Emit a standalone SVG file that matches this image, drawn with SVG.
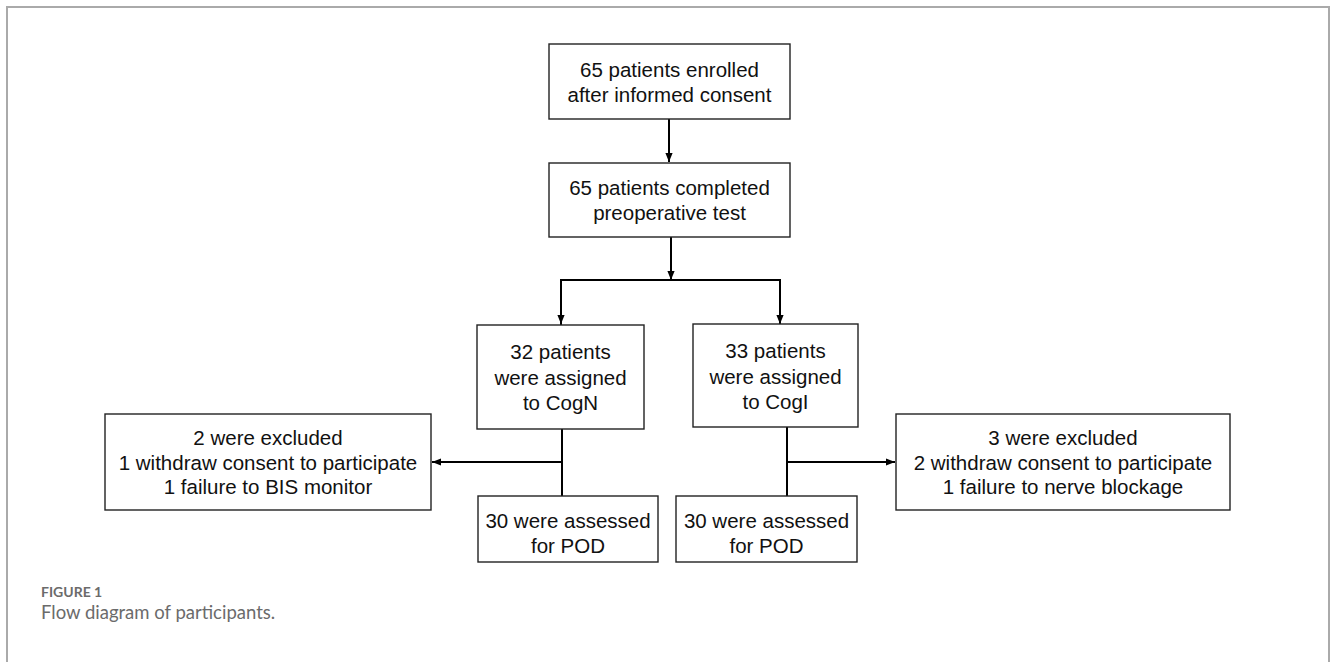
<svg xmlns="http://www.w3.org/2000/svg" width="1330" height="662" viewBox="0 0 1330 662">
<style>
.box{fill:#fff;stroke:#222;stroke-width:1.4}
.t{font-family:"Liberation Sans",Arial,sans-serif;font-size:20.5px;fill:#111;text-anchor:middle}
.c{fill:none;stroke:#000;stroke-width:2}
.frame{fill:none;stroke:#aaa;stroke-width:2}
</style>
<defs>
<marker id="ah" viewBox="0 0 10 10" refX="10" refY="5" markerWidth="9" markerHeight="9" markerUnits="userSpaceOnUse" orient="auto">
<path d="M0,1 L10,5 L0,9 Z" fill="#000"/>
</marker>
</defs>
<rect width="1330" height="662" fill="#fff"/>
<path class="frame" d="M7,662 V7 H1329 V662"/>
<g id="connectors">
<line class="c" x1="669" y1="119" x2="669" y2="162" marker-end="url(#ah)"/>
<line class="c" x1="671" y1="237" x2="671" y2="280" marker-end="url(#ah)"/>
<polyline class="c" points="561,325 561,280 780,280 780,324" marker-end="url(#ah)"/>
<line class="c" x1="561" y1="280" x2="561" y2="324" marker-end="url(#ah)"/>
<line class="c" x1="562" y1="429" x2="562" y2="496"/>
<line class="c" x1="562" y1="462" x2="432" y2="462" marker-end="url(#ah)"/>
<line class="c" x1="787" y1="427" x2="787" y2="496"/>
<line class="c" x1="787" y1="462" x2="895" y2="462" marker-end="url(#ah)"/>
</g>
<g id="n1">
<rect class="box" x="549" y="44" width="241" height="75"/>
<text class="t" x="669.5" y="77">65 patients enrolled</text>
<text class="t" x="669.5" y="102">after informed consent</text>
</g>
<g id="n2">
<rect class="box" x="549" y="163" width="241" height="74"/>
<text class="t" x="669.5" y="195">65 patients completed</text>
<text class="t" x="669.5" y="220">preoperative test</text>
</g>
<g id="n3">
<rect class="box" x="477" y="325" width="167" height="104"/>
<text class="t" x="560.5" y="359">32 patients</text>
<text class="t" x="560.5" y="384.5">were assigned</text>
<text class="t" x="560.5" y="410">to CogN</text>
</g>
<g id="n4">
<rect class="box" x="693" y="324" width="165" height="103"/>
<text class="t" x="775.5" y="358">33 patients</text>
<text class="t" x="775.5" y="383.5">were assigned</text>
<text class="t" x="775.5" y="409">to CogI</text>
</g>
<g id="n5">
<rect class="box" x="105" y="414" width="326" height="96"/>
<text class="t" x="268" y="445">2 were excluded</text>
<text class="t" x="268" y="469.5">1 withdraw consent to participate</text>
<text class="t" x="268" y="494">1 failure to BIS monitor</text>
</g>
<g id="n6">
<rect class="box" x="896" y="414" width="334" height="96"/>
<text class="t" x="1063" y="445">3 were excluded</text>
<text class="t" x="1063" y="469.5">2 withdraw consent to participate</text>
<text class="t" x="1063" y="494">1 failure to nerve blockage</text>
</g>
<g id="n7">
<rect class="box" x="478" y="496" width="180" height="66"/>
<text class="t" x="568" y="528">30 were assessed</text>
<text class="t" x="568" y="553">for POD</text>
</g>
<g id="n8">
<rect class="box" x="676" y="496" width="181" height="66"/>
<text class="t" x="766.5" y="528">30 were assessed</text>
<text class="t" x="766.5" y="553">for POD</text>
</g>
<g id="caption">
<text x="41" y="597" font-family="Lato,'Open Sans',sans-serif" font-size="14" font-weight="bold" fill="#6b6b6b">FIGURE 1</text>
<text x="41" y="619" font-family="Lato,'Open Sans',sans-serif" font-size="18.5" fill="#6b6b6b">Flow diagram of participants.</text>
</g>
</svg>
